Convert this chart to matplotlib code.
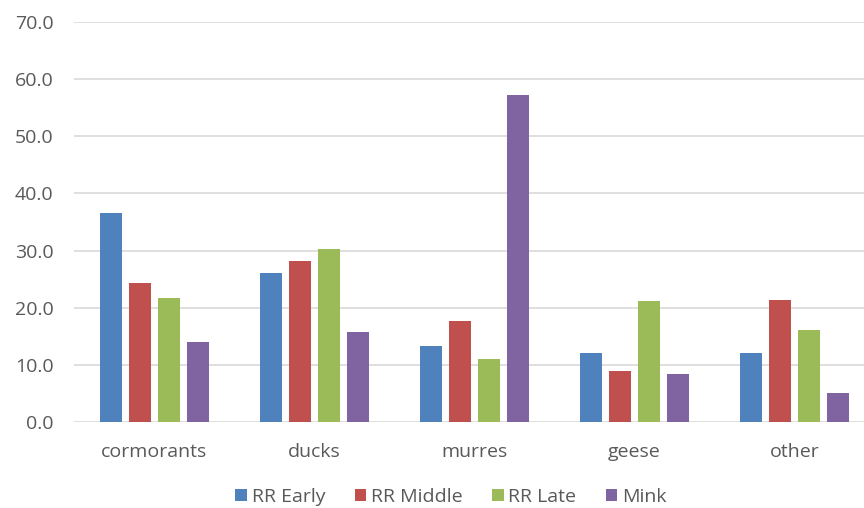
import matplotlib
matplotlib.use("Agg")
import matplotlib.pyplot as plt
import numpy as np

categories = ["cormorants", "ducks", "murres", "geese", "other"]
series_names = ["RR Early", "RR Middle", "RR Late", "Mink"]
rr_early = [36.6, 26.1, 13.3, 12.0, 12.0]
rr_middle = [24.3, 28.2, 17.6, 8.8, 21.3]
rr_late = [21.6, 30.3, 11.0, 21.2, 16.0]
mink = [13.9, 15.8, 57.2, 8.4, 5.0]
y_ticks = [0, 10, 20, 30, 40, 50, 60, 70]

colors = ["#4F81BD", "#C0504D", "#9BBB59", "#8064A2"]
text_color = "#595959"

plt.rcParams["font.family"] = ["Open Sans", "DejaVu Sans"]

fig = plt.figure(figsize=(8.64, 5.08), dpi=100)
ax = fig.add_axes([0.0862, 0.1699, 0.9259, 0.7862])

x = np.arange(len(categories))
pitch = 0.18125
width = 0.1375
values = [rr_early, rr_middle, rr_late, mink]
for i, (name, vals) in enumerate(zip(series_names, values)):
    ax.bar(x + (i - 1.5) * pitch, vals, width=width, color=colors[i],
           label=name, zorder=3)

ax.set_xlim(-0.5, len(categories) - 0.5)
ax.set_ylim(0, 70)
ax.set_yticks(y_ticks)
ax.set_yticklabels([f"{v:.1f}" for v in y_ticks])
ax.set_xticks(x)
ax.set_xticklabels(categories)
ax.tick_params(axis="both", length=0, labelsize=14, colors=text_color)
ax.tick_params(axis="y", pad=15)
ax.tick_params(axis="x", pad=15)
ax.yaxis.grid(True, color="#D9D9D9", linewidth=1.2, zorder=0)
ax.set_axisbelow(True)
for s in ax.spines.values():
    s.set_visible(False)

fig.legend(loc="center", bbox_to_anchor=(0.522, 0.022), ncol=4, frameon=False,
           fontsize=14, labelcolor=text_color, handlelength=0.6,
           handleheight=0.6, handletextpad=0.25, columnspacing=1.5,
           borderpad=0.1)

fig.savefig("out.png", dpi=100)
